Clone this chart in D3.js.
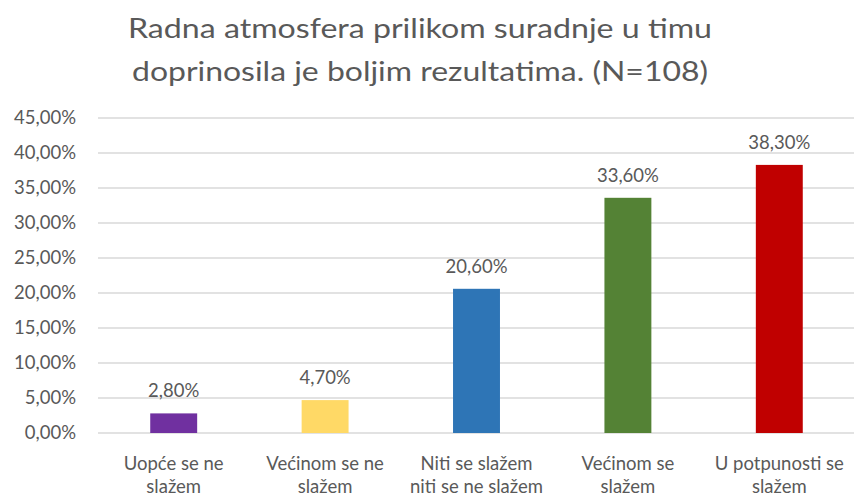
<!DOCTYPE html>
<html>
<head>
<meta charset="utf-8">
<script src="https://cdn.jsdelivr.net/npm/d3@7"></script>
<style>
  body { margin: 0; background: #fff; }
  svg text { font-family: Lato, "Open Sans", sans-serif; fill: #595959; }
</style>
</head>
<body>
<svg id="chart" width="854" height="498"></svg>
<script>
// chart data
const titleLines = ["Radna atmosfera prilikom suradnje u timu", "doprinosila je boljim rezultatima. (N=108)"];
const categories = [
    ["Uopće se ne", "slažem"],
    ["Većinom se ne", "slažem"],
    ["Niti se slažem", "niti se ne slažem"],
    ["Većinom se", "slažem"],
    ["U potpunosti se", "slažem"]
];
const values = [2.8, 4.7, 20.6, 33.6, 38.3];
const colors = ["#7030A0", "#FFD966", "#2E75B6", "#548235", "#C00000"];
const yTicks = [0, 5, 10, 15, 20, 25, 30, 35, 40, 45];

const svg = d3.select("#chart");
const fmt = v => v.toFixed(2).replace(".", ",") + "%";

const x = d3.scaleBand()
    .domain(d3.range(categories.length))
    .range([98, 855])
    .paddingInner(0.69)
    .paddingOuter(0.345);
const y = d3.scaleLinear().domain([0, 45]).range([433, 118]);

// title (stretched a little, the original font is wider than Lato)
const titleWidths = [584, 576];
svg.append("g").selectAll("text")
    .data(titleLines)
    .enter().append("text")
    .attr("x", 420)
    .attr("y", (d, i) => 38 + i * 43)
    .attr("text-anchor", "middle")
    .attr("textLength", (d, i) => titleWidths[i])
    .attr("lengthAdjust", "spacingAndGlyphs")
    .style("font-size", "27px")
    .text(d => d);

// grid lines
svg.append("g").selectAll("line")
    .data(yTicks)
    .enter().append("line")
    .attr("x1", 98).attr("x2", 854)
    .attr("y1", d => y(d)).attr("y2", d => y(d))
    .attr("stroke", "#d9d9d9")
    .attr("stroke-width", 1.5);

// y axis
const yAxis = svg.append("g")
    .attr("transform", "translate(82,0)")
    .call(d3.axisLeft(y).tickValues(yTicks).tickFormat(fmt).tickSize(0).tickPadding(6));
yAxis.select(".domain").remove();
yAxis.selectAll("text").style("font-size", "18.5px").attr("fill", "#595959");

// bars
svg.append("g").selectAll("rect")
    .data(values)
    .enter().append("rect")
    .attr("x", (d, i) => x(i))
    .attr("width", x.bandwidth())
    .attr("y", d => y(d))
    .attr("height", d => y(0) - y(d))
    .attr("fill", (d, i) => colors[i]);

// value labels
svg.append("g").selectAll("text")
    .data(values)
    .enter().append("text")
    .attr("x", (d, i) => x(i) + x.bandwidth() / 2)
    .attr("y", d => y(d) - 16)
    .attr("text-anchor", "middle")
    .style("font-size", "18.5px")
    .text(d => fmt(d));

// category labels
const cat = svg.append("g").selectAll("text")
    .data(categories)
    .enter().append("text")
    .attr("text-anchor", "middle")
    .style("font-size", "18.5px");
cat.selectAll("tspan")
    .data((d, i) => d.map(t => ({t: t, i: i})))
    .enter().append("tspan")
    .attr("x", d => x(d.i) + x.bandwidth() / 2)
    .attr("y", (d, j) => 470 + j * 23)
    .text(d => d.t);
</script>
</body>
</html>
